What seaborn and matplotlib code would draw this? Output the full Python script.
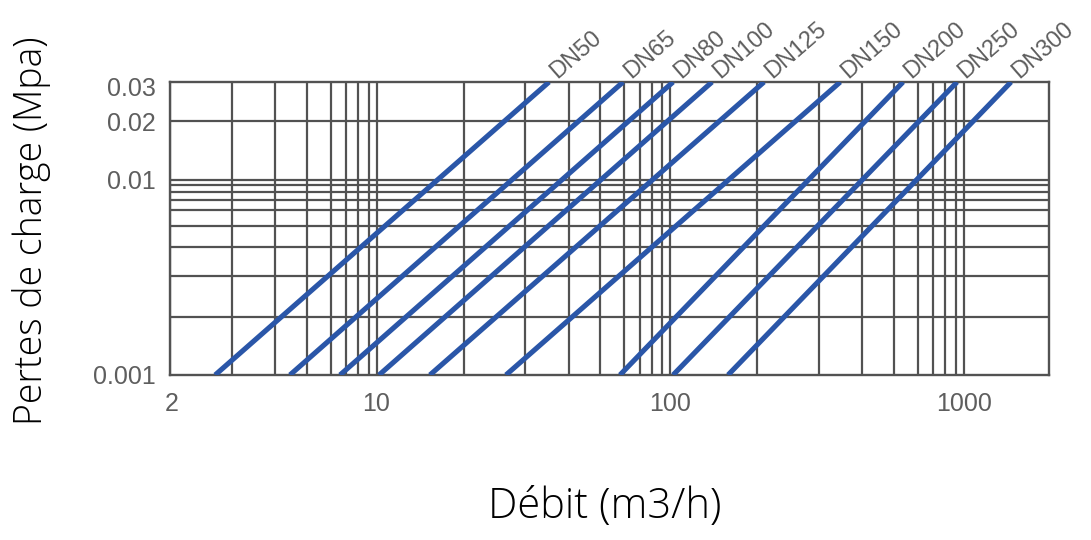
import matplotlib
matplotlib.use("Agg")
import matplotlib.pyplot as plt
import matplotlib.ticker as mticker
import matplotlib.transforms as mtransforms
import numpy as np
import pandas as pd
import seaborn as sns

# ---- data ----
dn_labels = ["DN50", "DN65", "DN80", "DN100", "DN125", "DN150", "DN200", "DN250", "DN300"]
q_low = [2.82, 5.07, 7.51, 10.2, 15.2, 27.6, 67.5, 102.4, 157.6]      # flow (m3/h) at p_low
q_high = [38.7, 69.2, 102.4, 139.0, 209.0, 380.0, 622.0, 950.0, 1451.0]  # flow (m3/h) at p_high
p_low = 0.001
p_high = 0.0318

x_tick_values = [2, 10, 100, 1000]
x_tick_labels = ["2", "10", "100", "1000"]
y_tick_values = [0.001, 0.01, 0.02, 0.03]
y_tick_labels = ["0.001", "0.01", "0.02", "0.03"]

# printed (non-standard) grid of the chart, multipliers within a decade
grid_multipliers = [1.982, 3.214, 4.519, 5.794, 6.982, 7.889, 8.670, 9.419]
x_grid_decades = [1, 10, 100]
y_grid_decades = [0.001]
x_grid_extra = [1000]
y_grid_extra = [0.01, 0.02]

# ---- build frame ----
rows = []
for name, ql, qh in zip(dn_labels, q_low, q_high):
    rows.append({"DN": name, "Q": ql, "p": p_low})
    rows.append({"DN": name, "Q": qh, "p": p_high})
df = pd.DataFrame(rows)

sns.set_theme(style="white")
plt.rcParams["font.family"] = ["Liberation Sans", "DejaVu Sans"]

W, H = 1091, 540
fig = plt.figure(figsize=(W / 100, H / 100), dpi=100)
left, right, top, bottom = 170, 1049, 82, 375
ax = fig.add_axes([left / W, 1 - bottom / H, (right - left) / W, (bottom - top) / H])

blue = "#2a56a8"
grid_c = "#525252"
text_c = "#5e5e5e"

sns.lineplot(data=df, x="Q", y="p", hue="DN", palette=[blue] * len(dn_labels),
             estimator=None, sort=False, legend=False, linewidth=3.7,
             solid_capstyle="butt", ax=ax, zorder=3)

ax.set_xscale("log")
ax.set_yscale("log")
ax.set_xlim(1.979, 1954)
ax.set_ylim(p_low, p_high)

# labelled ticks (major), grid lines (minor)
ax.xaxis.remove_overlapping_locs = False
ax.yaxis.remove_overlapping_locs = False
ax.xaxis.set_major_locator(mticker.FixedLocator(x_tick_values))
ax.xaxis.set_major_formatter(mticker.FixedFormatter(x_tick_labels))
ax.yaxis.set_major_locator(mticker.FixedLocator(y_tick_values))
ax.yaxis.set_major_formatter(mticker.FixedFormatter(y_tick_labels))

x_grid = [m * d for d in x_grid_decades for m in grid_multipliers] + [d * 10 for d in x_grid_decades] + x_grid_extra
y_grid = [m * d for d in y_grid_decades for m in grid_multipliers] + y_grid_extra
ax.xaxis.set_minor_locator(mticker.FixedLocator(sorted(set(x_grid))))
ax.yaxis.set_minor_locator(mticker.FixedLocator(sorted(set(y_grid))))
ax.xaxis.set_minor_formatter(mticker.NullFormatter())
ax.yaxis.set_minor_formatter(mticker.NullFormatter())

ax.grid(False, which="major")
ax.grid(True, which="minor", color=grid_c, linewidth=1.6)
ax.set_axisbelow(True)
ax.tick_params(which="both", length=0)
ax.tick_params(axis="x", which="major", pad=12, labelsize=18, labelcolor=text_c)
ax.tick_params(axis="y", which="major", pad=10, labelsize=18, labelcolor=text_c)

for sp in ax.spines.values():
    sp.set_color(grid_c)
    sp.set_linewidth(1.7)
    sp.set_visible(True)

ax.set_xlabel("")
ax.set_ylabel("")

label_tr = mtransforms.offset_copy(ax.transData, fig=fig, x=11, y=-1, units="dots")
for name, qh in zip(dn_labels, q_high):
    ax.text(qh, p_high, name, transform=label_tr,
            rotation=41, rotation_mode="anchor", ha="left", va="bottom",
            fontsize=17, color=text_c, clip_on=False)

fig.text(605 / W, 1 - 507 / H, "Débit (m3/h)", ha="center", va="center",
         fontsize=30, family=["Open Sans", "DejaVu Sans"], fontweight="light", color="black")
fig.text(32 / W, 1 - 231 / H, "Pertes de charge (Mpa)", ha="center", va="center",
         rotation=90, fontsize=27, family=["Open Sans", "DejaVu Sans"], fontweight="light",
         color="black")

fig.savefig("out.png", dpi=100, facecolor="white")
